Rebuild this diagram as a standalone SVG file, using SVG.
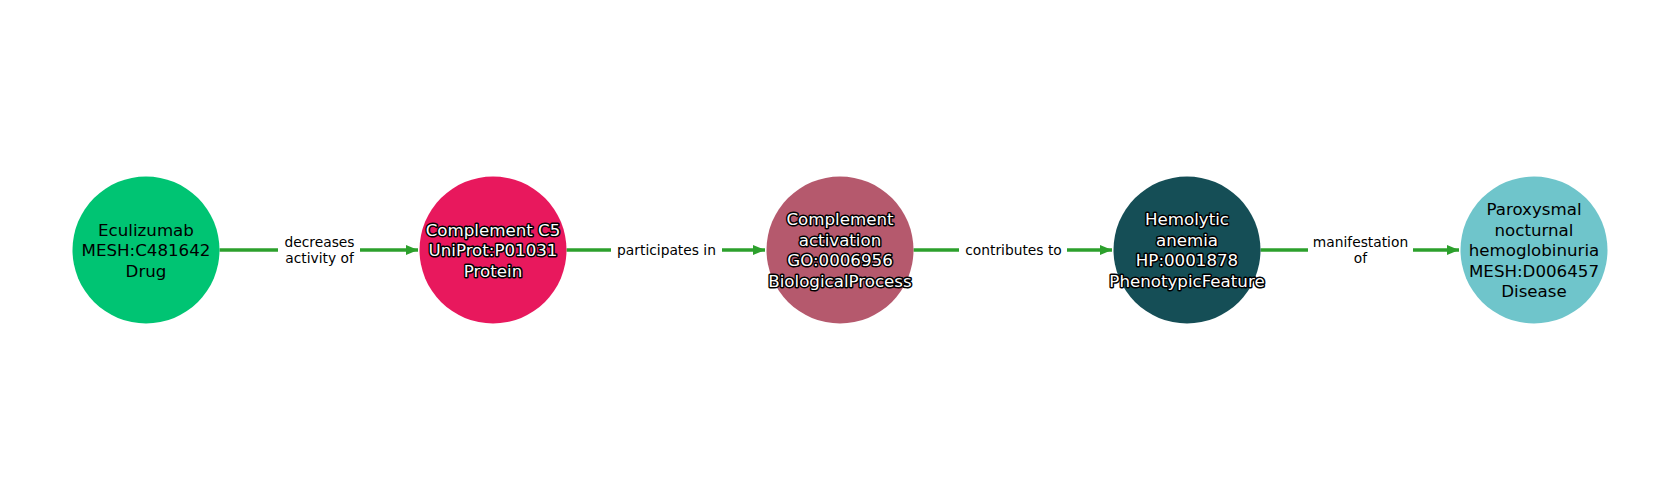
<svg xmlns="http://www.w3.org/2000/svg" width="1680" height="500" viewBox="0 0 1680 500">
<defs>
<style>
.nt{font-family:"DejaVu Sans",sans-serif;font-size:16.67px;text-anchor:middle}
.dk{fill:#000}
.lt{fill:#fff;stroke:#000;stroke-width:3px;paint-order:stroke;stroke-linejoin:round}
.el{font-family:"DejaVu Sans",sans-serif;font-size:13.8px;text-anchor:middle;fill:#000}
.edge{stroke:#2ca02c;stroke-width:3.6;fill:none}
.lb{fill:#fff}
</style>
<marker id="ah" markerUnits="userSpaceOnUse" markerWidth="13" markerHeight="13" viewBox="0 0 13 13" refX="12" refY="6.5" orient="auto">
<path d="M0,1.5 L12,6.5 L0,11.5 Z" fill="#2ca02c"/>
</marker>
</defs>
<rect width="1680" height="500" fill="#fff"/>
<g id="connectors">
<line class="edge" x1="219.5" y1="250" x2="418" y2="250" marker-end="url(#ah)"/>
<rect class="lb" x="278" y="234" width="82" height="32"/>
<text class="el" x="319.5" y="246.5">decreases</text>
<text class="el" x="319.5" y="262.8">activity of</text>
<line class="edge" x1="566.5" y1="250" x2="765" y2="250" marker-end="url(#ah)"/>
<rect class="lb" x="611" y="240" width="111" height="20"/>
<text class="el" x="666.5" y="255">participates in</text>
<line class="edge" x1="913.5" y1="250" x2="1112" y2="250" marker-end="url(#ah)"/>
<rect class="lb" x="959" y="240" width="108" height="20"/>
<text class="el" x="1013.5" y="255">contributes to</text>
<line class="edge" x1="1260.5" y1="250" x2="1459" y2="250" marker-end="url(#ah)"/>
<rect class="lb" x="1308" y="234" width="105" height="32"/>
<text class="el" x="1360.5" y="246.5">manifestation</text>
<text class="el" x="1360.5" y="262.8">of</text>
</g>
<g id="n1">
<circle cx="146" cy="250" r="73.5" fill="#00c473"/>
<text class="nt dk" x="146" y="235.5">Eculizumab</text>
<text class="nt dk" x="146" y="256">MESH:C481642</text>
<text class="nt dk" x="146" y="276.5">Drug</text>
</g>
<g id="n2">
<circle cx="493" cy="250" r="73.5" fill="#e8185d"/>
<text class="nt lt" x="493" y="235.5">Complement C5</text>
<text class="nt lt" x="493" y="256">UniProt:P01031</text>
<text class="nt lt" x="493" y="276.5">Protein</text>
</g>
<g id="n3">
<circle cx="840" cy="250" r="73.5" fill="#b5596d"/>
<text class="nt lt" x="840" y="225.2">Complement</text>
<text class="nt lt" x="840" y="245.7">activation</text>
<text class="nt lt" x="840" y="266.2">GO:0006956</text>
<text class="nt lt" x="840" y="286.7">BiologicalProcess</text>
</g>
<g id="n4">
<circle cx="1187" cy="250" r="73.5" fill="#154e56"/>
<text class="nt lt" x="1187" y="225.2">Hemolytic</text>
<text class="nt lt" x="1187" y="245.7">anemia</text>
<text class="nt lt" x="1187" y="266.2">HP:0001878</text>
<text class="nt lt" x="1187" y="286.7">PhenotypicFeature</text>
</g>
<g id="n5">
<circle cx="1534" cy="250" r="73.5" fill="#6fc5cb"/>
<text class="nt dk" x="1534" y="215">Paroxysmal</text>
<text class="nt dk" x="1534" y="235.5">nocturnal</text>
<text class="nt dk" x="1534" y="256">hemoglobinuria</text>
<text class="nt dk" x="1534" y="276.5">MESH:D006457</text>
<text class="nt dk" x="1534" y="297">Disease</text>
</g>
</svg>
